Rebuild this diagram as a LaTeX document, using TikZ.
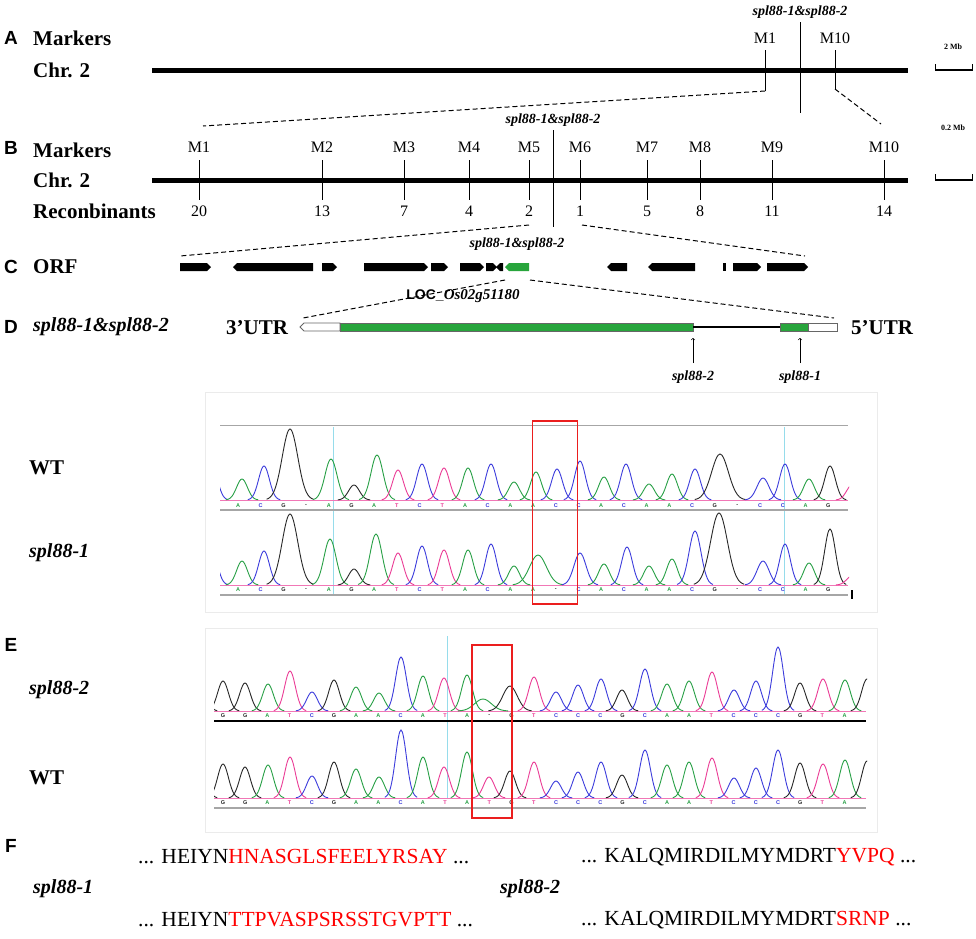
\documentclass[tikz,border=0pt]{standalone}
\usepackage{fontspec}
\setmainfont{Liberation Serif}
\newfontfamily\panelfont{Liberation Sans}
\definecolor{chA}{RGB}{40,160,70}
\definecolor{chC}{RGB}{60,60,220}
\definecolor{chG}{RGB}{40,40,40}
\definecolor{chT}{RGB}{235,60,150}
\definecolor{lcA}{RGB}{40,160,70}
\definecolor{lcC}{RGB}{60,60,220}
\definecolor{lcG}{RGB}{40,40,40}
\definecolor{lcT}{RGB}{235,60,150}
\definecolor{lcD}{RGB}{40,40,40}
\definecolor{gene}{RGB}{40,165,60}
\definecolor{redbox}{RGB}{235,30,30}
\definecolor{cyanl}{RGB}{150,220,235}
\newcommand\chtrace[2]{\foreach \cc/\xx/\hh/\ss in {#2}{\draw[color=\cc,line width=0.9pt] plot[variable=\t,domain=\xx-3*\ss*1.2:\xx+3*\ss*1.2,samples=27,smooth] (\t,{#1-\hh*exp(-((\t-\xx)/(\ss*1.2))^2/2)});}}
\newcommand\letrow[4]{\foreach \l [count=\i from 0] in {#4}{\node[font=\panelfont\bfseries\fontsize{5.5}{6}\selectfont,text=lc\l,inner sep=0pt] at (#1+\i*#2,#3) {\if D\l -\else\l\fi};}}
\newcommand\orfR[3][black]{\fill[#1] (#2,263) -- (#3-4,263) -- (#3,267) -- (#3-4,271) -- (#2,271) -- cycle;}
\newcommand\orfL[3][black]{\fill[#1] (#2,267) -- (#2+4,263) -- (#3,263) -- (#3,271) -- (#2+4,271) -- cycle;}
\begin{document}
\begin{tikzpicture}[x=1pt,y=-1pt,
  pnl/.style={font=\panelfont\bfseries\fontsize{19}{22}\selectfont,inner sep=0pt},
  lbl/.style={font=\bfseries\fontsize{21}{24}\selectfont,anchor=west,inner sep=0pt},
  ilbl/.style={font=\bfseries\itshape\fontsize{20}{24}\selectfont,anchor=west,inner sep=0pt},
  mk/.style={font=\fontsize{16}{18}\selectfont,inner sep=0pt},
  sp/.style={font=\bfseries\itshape\fontsize{14}{16}\selectfont,inner sep=0pt},
  chr/.style={line width=5pt},
  tick/.style={line width=0.8pt},
  dsh/.style={dashed,line width=1pt,dash pattern=on 5pt off 3pt},
  seq/.style={font=\fontsize{21.5}{24}\selectfont,anchor=west,inner sep=0pt}]
\useasboundingbox[fill=white] (0,0) rectangle (976,938);
% ---------- A ----------
\node[pnl] (pA) at (11,38) {A};
\node[lbl] (mkA) at (33,38) {Markers};
\node[lbl] (chA1) at (33,70) {Chr. 2};
\draw[chr] (152,70) -- (908,70);
\node[sp] (spA) at (800,12) {spl88-1\&spl88-2};
\draw[tick] (800,22) -- (800,113);
\node[mk] (a1) at (765,38) {M1};
\node[mk] (a10) at (835,38) {M10};
\draw[tick] (765,50) -- (765,91);
\draw[tick] (835,50) -- (835,89);
\coordinate (a1b) at (765,91);
\coordinate (a10b) at (835,89);
\draw[dsh] (a1b) -- (203,126);
\draw[dsh] (a10b) -- (881,124);
\node[font=\bfseries\fontsize{8}{9}\selectfont] (mbA) at (953,47) {2 Mb};
\draw[line width=0.8pt] (935,64) -- (935,70.5) -- (972,70.5) -- (972,64);
\draw[line width=2pt] (935,70) -- (972,70);
% ---------- B ----------
\node[pnl] (pB) at (11,148) {B};
\node[lbl] (mkB) at (33,150) {Markers};
\node[lbl] (chB) at (33,180) {Chr. 2};
\node[lbl] (rcB) at (33,211) {Reconbinants};
\draw[chr] (152,180) -- (908,180);
\foreach \xm/\lab/\n in {199/M1/20,322/M2/13,404/M3/7,469/M4/4,529/M5/2,580/M6/1,647/M7/5,700/M8/8,772/M9/11,884/M10/14}{
  \node[mk] at (\xm,147) {\lab};
  \draw[tick] (\xm,160) -- (\xm,200);
  \node[mk] at (\xm,211) {\n};
}
\node[sp] (spB) at (553,120) {spl88-1\&spl88-2};
\draw[tick] (553,130) -- (553,227);
\node[font=\bfseries\fontsize{8}{9}\selectfont] (mbB) at (953,128) {0.2 Mb};
\draw[line width=0.8pt] (935,174) -- (935,180.5) -- (972,180.5) -- (972,174);
\draw[line width=2pt] (935,180) -- (972,180);
\draw[dsh] (529,225) -- (180,256);
\draw[dsh] (582,225) -- (805,256);
% ---------- C ----------
\node[pnl] (pC) at (11,267) {C};
\node[lbl] (orf) at (33,267) {ORF};
\orfR{180}{211}
\orfL{233}{313}
\orfR{322}{337}
\orfR{364}{428}
\orfR{431}{448}
\orfR{460}{484}
\orfR{486}{497}
\orfL{496}{503}
\orfL[gene]{505}{529}
\orfL{607}{627}
\orfL{648}{695}
\fill (723,263) rectangle (726,271);
\orfR{733}{761}
\orfR{767}{808}
\node[sp] (spC) at (517,244) {spl88-1\&spl88-2};
\draw[dsh] (505,280) -- (303,318);
\draw[dsh] (530,280) -- (834,318);
\node[inner sep=0pt] (loc) at (463,296) {{\panelfont\bfseries\fontsize{14}{16}\selectfont LOC\_}{\bfseries\itshape\fontsize{15}{17}\selectfont Os02g51180}};
% ---------- D ----------
\node[pnl] (pD) at (11,327) {D};
\node[ilbl] (dlab) at (33,327) {spl88-1\&spl88-2};
\node[lbl] (utr3) at (226,328) {3'UTR};
\node[lbl] (utr5) at (851,328) {5'UTR};
\draw[black!60,line width=0.8pt,fill=white] (300,327) -- (304,323) -- (340,323) -- (340,331) -- (304,331) -- cycle;
\draw[black!60,line width=0.8pt,fill=gene] (340,323) rectangle (693,331);
\draw[line width=1.5pt] (693,327) -- (780,327);
\draw[black!60,line width=0.8pt,fill=gene] (780,323) rectangle (808,331);
\draw[black!60,line width=0.8pt,fill=white] (808,323) rectangle (837,331);
\coordinate (m2) at (693,338);
\coordinate (m1) at (800,338);
\node[sp] (l2) at (693,377) {spl88-2};
\node[sp] (l1) at (800,377) {spl88-1};
\draw[->,line width=0.6pt] (693,363) -- (m2);
\draw[->,line width=0.6pt] (800,363) -- (m1);
% ---------- chromatogram 1 ----------
\draw[black!8] (205,392) rectangle (877,612);
\node[lbl] (wt1) at (29,468) {WT};
\node[ilbl] (s1) at (29,553) {spl88-1};
\draw[gray!70,line width=0.6pt] (220,425) -- (848,425);
\draw[cyanl,line width=0.8pt] (333,427) -- (333,595);
\draw[cyanl,line width=0.8pt] (784,427) -- (784,595);
\draw[chT!70,line width=0.5pt] (220,500) -- (848,500);
\draw[chT!70,line width=0.5pt] (220,585) -- (848,585);
\begin{scope}
\clip (220,400) rectangle (849,600);
\chtrace{500}{chC/212/35/4.5,chA/242/21/4.5,chC/264/34/4.5,chG/290/71/6.5,chA/331/41/5,chG/354/15/4.5,chA/377/45/5,chT/398/30/4.5,chC/422/36/4.5,chT/444/32/4.5,chA/468/32/4.5,chC/491/36/4.5,chA/514/18/4.5,chA/536/28/4.5,chC/557/31/4.5,chC/580/39/4.5,chA/604/23/4.5,chC/626/36/4.5,chA/649/16/4.5,chA/672/26/4.5,chC/695/31/4.5,chG/720/46/7,chC/763/22/5,chC/785/36/4.5,chA/809/21/4.5,chG/830/34/4.5,chT/852/15/4.5}
\chtrace{585}{chC/212/34/4.5,chA/242/24/4.5,chC/264/34/4.5,chG/290/71/6.5,chA/330/46/5,chG/354/16/4.5,chA/376/51/5,chT/398/32/4.5,chC/422/39/4.5,chT/444/35/4.5,chA/468/35/4.5,chC/491/41/4.5,chA/514/19/4.5,chA/538/30/7,chC/580/32/5,chA/604/21/4.5,chC/627/38/4.5,chA/649/19/4.5,chA/672/26/4.5,chC/695/54/5,chG/719/72/7,chC/763/24/5,chC/785/41/4.5,chA/809/22/4.5,chG/830/56/4.5,chT/852/9/4.5}
\end{scope}
\letrow{238}{22.7}{505.5}{A,C,G,D,A,G,A,T,C,T,A,C,A,A,C,C,A,C,A,A,C,G,D,C,C,A,G}
\letrow{238}{22.7}{590}{A,C,G,D,A,G,A,T,C,T,A,C,A,A,D,C,A,C,A,A,C,G,D,C,C,A,G}
\draw[gray!70,line width=1.6pt] (220,510) -- (848,510);
\draw[gray!70,line width=1.6pt] (220,595) -- (848,595);
\draw[line width=1.5pt] (852,590) -- (852,599);
\node[draw=redbox,line width=1.6pt,minimum width=45pt,minimum height=183pt,inner sep=0pt] (rb1) at (555,512.5) {};
% ---------- E ----------
\node[pnl] (pE) at (11,645) {E};
\draw[black!8] (205,628) rectangle (877,832);
\node[ilbl] (s2) at (29,690) {spl88-2};
\node[lbl] (wt2) at (29,778) {WT};
\draw[cyanl,line width=0.8pt] (447,636) -- (447,799);
\draw[chT!70,line width=0.5pt] (214,711) -- (866,711);
\draw[chT!70,line width=0.5pt] (214,798) -- (866,798);
\begin{scope}
\clip (214,630) rectangle (867,805);
\chtrace{711}{chG/201/30/4.5,chG/223/30/4.5,chG/245/28/4.5,chA/268/27/4.5,chT/290/40/4.5,chC/312/19/4.5,chG/334/31/4.5,chA/356/24/4.5,chA/379/18/4.5,chC/401/54/4.5,chA/423/35/4.5,chT/444/33/4.5,chA/467/36/4.5,chA/483/12/7,chG/510/25/6,chT/534/34/4.5,chC/556/19/4.5,chC/578/26/4.5,chC/601/32/4.5,chG/622/21/4.5,chC/645/42/4.5,chA/667/27/4.5,chA/689/30/4.5,chT/712/39/4.5,chC/734/21/4.5,chC/756/30/4.5,chC/778/64/4.5,chG/800/28/4.5,chT/823/32/4.5,chA/845/31/4.5,chG/867/32/4.5}
\chtrace{798}{chG/201/34/4.5,chG/223/34/4.5,chG/245/31/4.5,chA/268/33/4.5,chT/290/41/4.5,chC/312/22/4.5,chG/334/36/4.5,chA/356/29/4.5,chA/379/21/4.5,chC/401/68/4.5,chA/423/41/4.5,chT/444/31/4.5,chA/467/46/4.5,chT/489/21/4.5,chG/510/27/4.5,chT/534/36/4.5,chC/556/17/4.5,chC/578/26/4.5,chC/601/36/4.5,chG/622/23/4.5,chC/645/48/4.5,chA/667/33/4.5,chA/689/36/4.5,chT/712/40/4.5,chC/734/20/4.5,chC/756/30/4.5,chC/778/48/4.5,chG/800/35/4.5,chT/823/34/4.5,chA/845/38/4.5,chG/867/37/4.5}
\end{scope}
\letrow{223}{22.2}{716}{G,G,A,T,C,G,A,A,C,A,T,A,D,G,T,C,C,C,G,C,A,A,T,C,C,C,G,T,A}
\letrow{223}{22.2}{803}{G,G,A,T,C,G,A,A,C,A,T,A,T,G,T,C,C,C,G,C,A,A,T,C,C,C,G,T,A}
\draw[black,line width=1.6pt] (214,721) -- (866,721);
\draw[gray!70,line width=1.6pt] (214,808) -- (866,808);
\node[draw=redbox,line width=1.6pt,minimum width=40pt,minimum height=173pt,inner sep=0pt] (rb2) at (492,731.5) {};
% ---------- F ----------
\node[pnl] (pF) at (11,846) {F};
\node[seq] (f1) at (138,857) {... HEIYN\textcolor{red}{HNASGLSFEELYRSAY} ...};
\node[seq] (f2) at (581,857) {... KALQMIRDILMYMDRT\textcolor{red}{YVPQ} ...};
\node[ilbl] (fs1) at (33,889) {spl88-1};
\node[ilbl] (fs2) at (500,889) {spl88-2};
\node[seq] (f3) at (138,920) {... HEIYN\textcolor{red}{TTPVASPSRSSTGVPTT} ...};
\node[seq] (f4) at (581,920) {... KALQMIRDILMYMDRT\textcolor{red}{SRNP} ...};
\end{tikzpicture}
\end{document}
